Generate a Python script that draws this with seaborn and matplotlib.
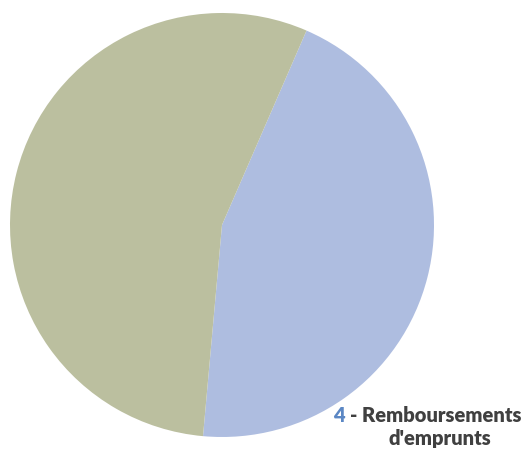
import numpy as np
import pandas as pd
import seaborn as sns
import matplotlib.pyplot as plt

# slices, clockwise from the top boundary
labels = ['4 - Remboursements d\'emprunts', 'Autres']
shares = [44.9, 55.1]
colors = ['#aebde0', '#bbbf9f']

sns.set_style("white")

fig = plt.figure(figsize=(5.26, 4.5), dpi=100)
ax = fig.add_axes([10 / 526, 13 / 450, 424 / 526, 424 / 450])
ax.pie(shares, colors=colors, startangle=66.5, counterclock=False,
       radius=1.0, wedgeprops=dict(linewidth=0))
ax.set_xlim(-1, 1)
ax.set_ylim(-1, 1)
ax.set_aspect('equal')
ax.axis('off')

# label, number in blue and the rest in dark grey
font = dict(fontsize=14.5, fontweight='heavy', family=['Lato', 'DejaVu Sans'])
rest = fig.text(522 / 526, 1 - 415 / 450, '- Remboursements', color='#404040', va='center', ha='right', **font)
fig.canvas.draw()
bb = rest.get_window_extent()
fig.text((bb.x0 - 6) / 526, 1 - 415 / 450, '4', color='#5b87c4', va='center', ha='right', **font)
fig.text(440 / 526, 1 - 438 / 450, "d'emprunts", color='#404040', va='center', ha='center', **font)

plt.savefig('out.png', dpi=100)
